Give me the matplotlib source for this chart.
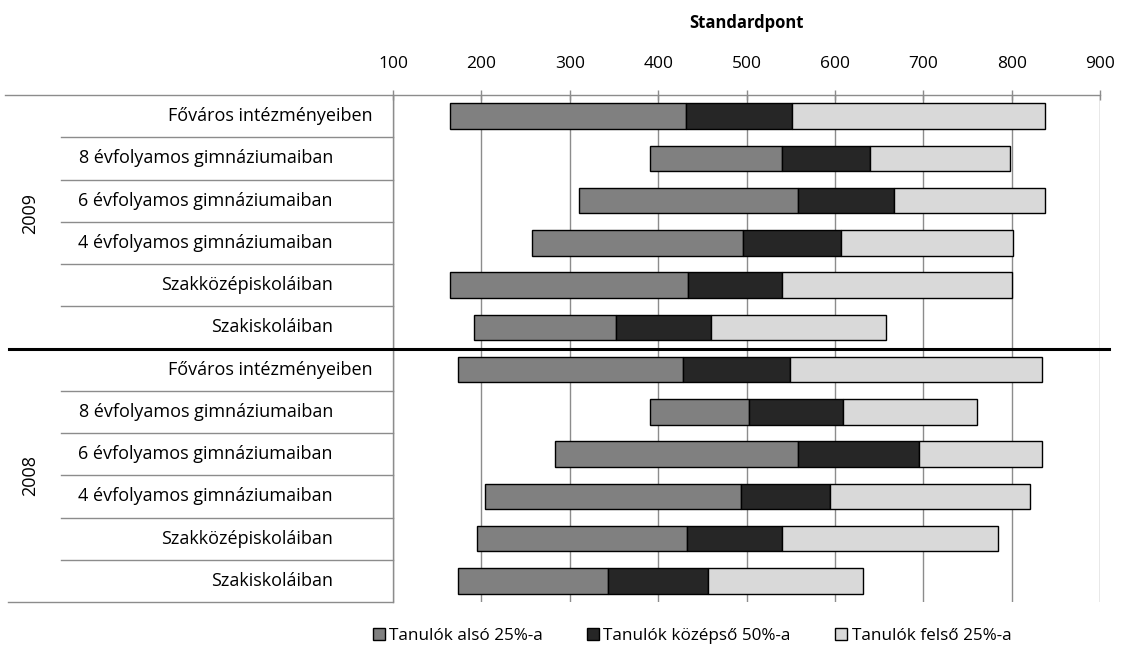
import numpy as np
import matplotlib
matplotlib.use("Agg")
import matplotlib.pyplot as plt
from matplotlib.lines import Line2D
from matplotlib.patches import Patch
from matplotlib.transforms import blended_transform_factory

plt.rcParams['font.family'] = ['Open Sans', 'DejaVu Sans']

# data (Standardpont), 2009 rows first, then 2008
categories = ["Főváros intézményeiben", "8 évfolyamos gimnáziumaiban",
              "6 évfolyamos gimnáziumaiban", "4 évfolyamos gimnáziumaiban",
              "Szakközépiskoláiban", "Szakiskoláiban"]
years = ["2009", "2008"]
mins_2009 = [165, 391, 311, 257, 165, 192]
q1_2009 = [431, 540, 558, 496, 434, 352]
q3_2009 = [551, 640, 667, 607, 540, 460]
maxs_2009 = [838, 798, 838, 802, 800, 658]
mins_2008 = [173, 391, 283, 204, 195, 173]
q1_2008 = [428, 503, 558, 494, 433, 343]
q3_2008 = [549, 609, 695, 594, 540, 456]
maxs_2008 = [834, 761, 834, 821, 785, 632]
series = ["Tanulók alsó 25%-a", "Tanulók középső 50%-a", "Tanulók felső 25%-a"]
colors = ["#808080", "#262626", "#d9d9d9"]

mins = np.array(mins_2009 + mins_2008)
q1 = np.array(q1_2009 + q1_2008)
q3 = np.array(q3_2009 + q3_2008)
maxs = np.array(maxs_2009 + maxs_2008)
ypos = np.arange(len(mins)) + 0.5

W, H = 1121, 652
fig = plt.figure(figsize=(W / 100, H / 100), dpi=100)
ax = fig.add_axes([393 / W, 1 - 602 / H, (1100 - 393) / W, (602 - 95) / H])

bh = 0.6
ax.barh(ypos, q1 - mins, left=mins, height=bh, color=colors[0], edgecolor="black", linewidth=1.0, zorder=3)
ax.barh(ypos, q3 - q1, left=q1, height=bh, color=colors[1], edgecolor="black", linewidth=1.0, zorder=3)
ax.barh(ypos, maxs - q3, left=q3, height=bh, color=colors[2], edgecolor="black", linewidth=1.0, zorder=3)

ax.set_xlim(100, 900)
ax.set_ylim(12, 0)
ax.set_xticks(range(100, 1000, 100))
ax.xaxis.tick_top()
ax.xaxis.set_label_position("top")
ax.set_xlabel("Standardpont", fontsize=12, fontweight="bold", labelpad=20)
ax.tick_params(axis="x", direction="inout", length=7, width=1, color="#8c8c8c",
               labelsize=12.5, pad=13)
ax.set_yticks([])
ax.grid(axis="x", color="#8c8c8c", linewidth=1, zorder=0)
for s in ["right", "bottom", "top"]:
    ax.spines[s].set_visible(False)
ax.spines["left"].set_color("#8c8c8c")
ax.spines["left"].set_linewidth(1)

# table lines on the left
tr = blended_transform_factory(fig.transFigure, ax.transData)
grey = "#8c8c8c"
for b in [1, 2, 3, 4, 5, 7, 8, 9, 10, 11]:
    fig.add_artist(Line2D([61 / W, 393 / W], [b, b], transform=tr, color=grey, lw=1))
fig.add_artist(Line2D([5 / W, 1100 / W], [0, 0], transform=tr, color=grey, lw=1))
fig.add_artist(Line2D([8 / W, 393 / W], [12, 12], transform=tr, color=grey, lw=1))
fig.add_artist(Line2D([9 / W, 1109 / W], [6, 6], transform=tr, color="black", lw=2.2, zorder=5))

# category and year labels
for i, y in enumerate(ypos):
    name = categories[i % 6]
    xr = 373 if i % 6 == 0 else 333
    fig.text(xr / W, y, name, transform=tr, ha="right", va="center", fontsize=13)
fig.text(30 / W, 2.8, years[0], transform=tr, rotation=90, ha="center", va="center", fontsize=13)
fig.text(30 / W, 9.0, years[1], transform=tr, rotation=90, ha="center", va="center", fontsize=13)

handles = [Patch(facecolor=c, edgecolor="black", linewidth=1) for c in colors]
fig.legend(handles, series, loc="center", bbox_to_anchor=(692 / W, 1 - 636 / H),
           ncol=3, frameon=False, fontsize=12.3, handlelength=0.7, handleheight=0.7,
           handletextpad=0.25, columnspacing=2.6)

fig.savefig("out.png", dpi=100)
